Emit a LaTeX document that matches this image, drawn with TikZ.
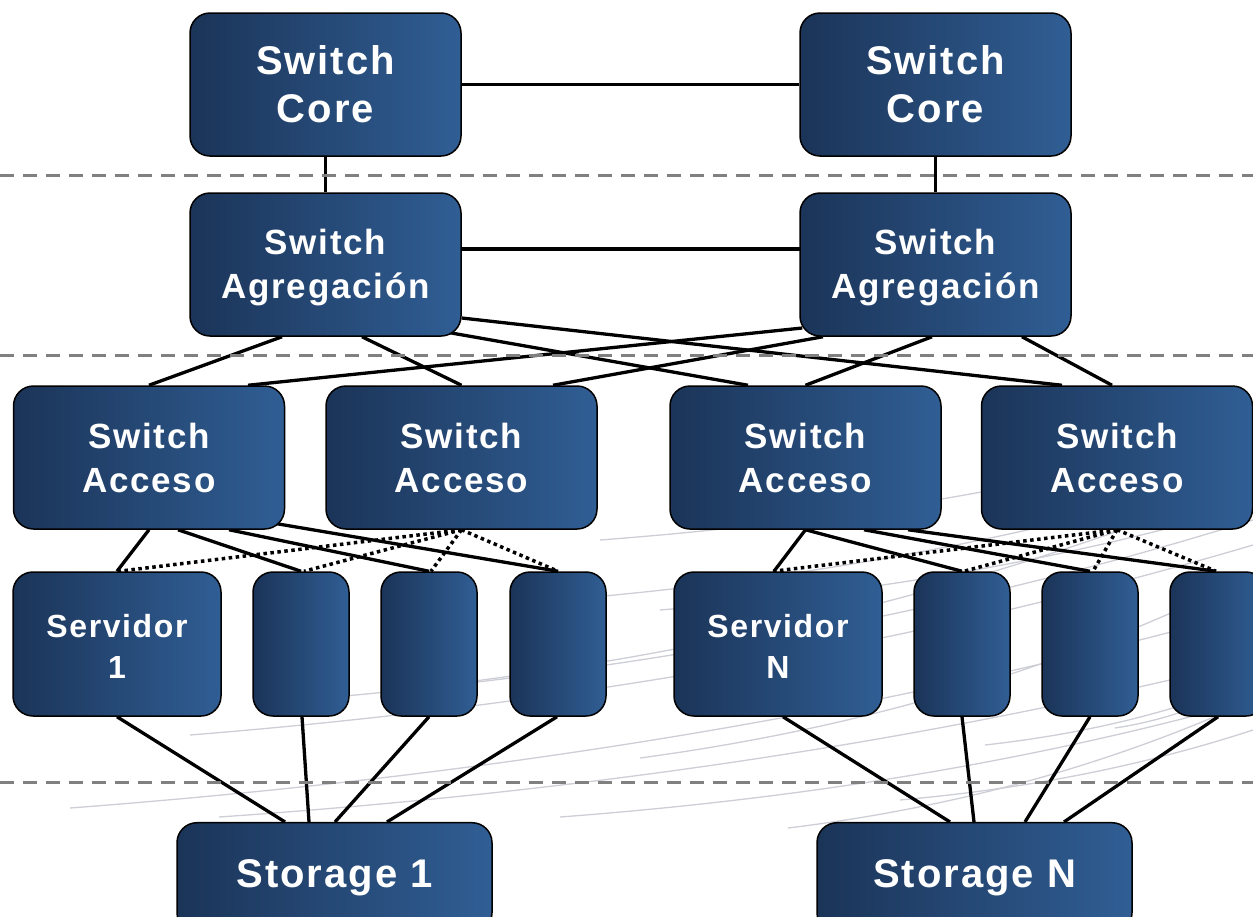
\documentclass[tikz,border=0pt]{standalone}
\usepackage{fontspec}
\newfontfamily\labfont[LetterSpace=5]{Liberation Sans}
\usetikzlibrary{calc}
\definecolor{navyL}{RGB}{27,52,88}
\definecolor{navyR}{RGB}{48,94,148}
\definecolor{sepgray}{RGB}{128,128,128}
\definecolor{swooshgray}{RGB}{205,206,214}
\pgfdeclarelayer{bg}
\pgfsetlayers{bg,main}
\tikzset{
  box/.style={draw=black, line width=1.5pt, rounded corners=20pt, left color=navyL, right color=navyR, text=white, align=center, inner sep=0pt},
  bigbox/.style={box, minimum width=271pt, minimum height=143pt},
  srvbox/.style={box, minimum width=208pt, minimum height=144pt},
  slimbox/.style={box, minimum width=96pt, minimum height=144pt},
  stobox/.style={box, minimum width=315pt, minimum height=110pt},
  fcore/.style={font=\labfont\bfseries\fontsize{40}{48}\selectfont},
  fmid/.style={font=\labfont\bfseries\fontsize{35}{44}\selectfont},
  fsrv/.style={font=\labfont\bfseries\fontsize{32}{41}\selectfont},
  link/.style={line width=3.3pt, black},
  dotlink/.style={line width=3.5pt, black, dash pattern=on 3.5pt off 3.5pt},
  sepline/.style={line width=3pt, sepgray, dash pattern=on 14pt off 9pt},
  swoosh/.style={line width=1.3pt, swooshgray},
}
\begin{document}
\begin{tikzpicture}[x=1pt,y=1pt]
\useasboundingbox (0,0) rectangle (1253,-916);
\clip (0,0) rectangle (1253,-916);

% nodes
\node[bigbox,fcore] (coreL) at (325.5,-84.5) {Switch\\Core};
\node[bigbox,fcore] (coreR) at (935.5,-84.5) {Switch\\Core};
\node[bigbox,fmid] (aggL) at (325.5,-264.5) {\rule{0pt}{32pt}Switch\\Agregación};
\node[bigbox,fmid] (aggR) at (935.5,-264.5) {\rule{0pt}{32pt}Switch\\Agregación};
\node[bigbox,fmid] (acc1) at (149,-457.5) {\rule{0pt}{27pt}Switch\\Acceso};
\node[bigbox,fmid] (acc2) at (461.5,-457.5) {\rule{0pt}{27pt}Switch\\Acceso};
\node[bigbox,fmid] (acc3) at (805.5,-457.5) {\rule{0pt}{27pt}Switch\\Acceso};
\node[bigbox,fmid] (acc4) at (1117,-457.5) {\rule{0pt}{27pt}Switch\\Acceso};
\node[srvbox,fsrv] (srv1) at (117,-644) {\rule{0pt}{27pt}Servidor\\1};
\node[slimbox] (s12) at (301,-644) {};
\node[slimbox] (s13) at (429,-644) {};
\node[slimbox] (s14) at (558,-644) {};
\node[srvbox,fsrv] (srvN) at (778,-644) {\rule{0pt}{27pt}Servidor\\N};
\node[slimbox] (sN2) at (962,-644) {};
\node[slimbox] (sN3) at (1090,-644) {};
\node[slimbox] (sN4) at (1218,-644) {};
\node[stobox,fcore] (sto1) at (334.5,-877.7) {Storage 1};
\node[stobox,fcore] (stoN) at (974.5,-877.7) {Storage N};

% separators
\coordinate (sepAl) at (0,-175);   \coordinate (sepAr) at (1253,-175);
\coordinate (sepBl) at (0,-355);   \coordinate (sepBr) at (1253,-355);
\coordinate (sepCl) at (0,-782);   \coordinate (sepCr) at (1253,-782);

\begin{pgfonlayer}{bg}
% faint background swooshes
\draw[swoosh] (190,-735) .. controls (544,-706.5) and (899,-649.5) .. (1253,-545);
\draw[swoosh] (70,-808) .. controls (464,-778) and (859,-719) .. (1253,-610);
\draw[swoosh] (219,-817) .. controls (564,-793) and (908,-746) .. (1253,-660);
\draw[swoosh] (300,-700) .. controls (618,-673) and (935,-619) .. (1253,-520);
\draw[swoosh] (400,-690) .. controls (684,-658.5) and (969,-595.5) .. (1253,-480);
\draw[swoosh] (560,-600) .. controls (791,-580.5) and (1022,-541.5) .. (1253,-470);
\draw[swoosh] (600,-540) .. controls (818,-523.5) and (1035,-490.5) .. (1253,-430);
\draw[swoosh] (660,-610) .. controls (858,-594) and (1055,-563) .. (1253,-505);
\draw[swoosh] (640,-758) .. controls (844,-730.5) and (1049,-675.6) .. (1253,-575);
\draw[swoosh] (788,-828) .. controls (943,-809) and (1098,-770) .. (1253,-700);
\draw[swoosh] (900,-800) .. controls (1018,-789.5) and (1135,-768.5) .. (1253,-730);
\draw[swoosh] (985,-745) .. controls (1074,-735) and (1164,-716) .. (1253,-680);
\draw[swoosh] (1115,-728) .. controls (1161,-721) and (1207,-706) .. (1253,-680);
\draw[swoosh] (560,-817) .. controls (791,-799.5) and (1022,-764.5) .. (1253,-700);

% core / aggregation links
\draw[link] (coreL) -- (coreR);
\draw[link] (coreL) -- (aggL);
\draw[link] (coreR) -- (aggR);
\draw[link] ($(aggL.center)+(0,15.5)$) -- ($(aggR.center)+(0,15.5)$);

% aggregation -> access
\draw[link] ($(aggL.south)+(-43.5,0)$) -- (acc1.north);
\draw[link] ($(aggL.south)+(36.5,0)$) -- (acc2.north);
\draw[link] ($(aggL.south)+(124.5,4)$) -- ($(acc3.north)+(-57.5,0)$);
\draw[link] ($(aggL.east)+(0,-53.5)$) -- ($(acc4.north)+(-55,0)$);
\draw[link] ($(aggR.west)+(3,-63.5)$) -- ($(acc1.north)+(99,0)$);
\draw[link] ($(aggR.south)+(-112.5,0)$) -- ($(acc2.north)+(91.5,0)$);
\draw[link] ($(aggR.south)+(-3.5,0)$) -- (acc3.north);
\draw[link] ($(aggR.south)+(86.5,0)$) -- ($(acc4.north)+(-5,0)$);

% access -> servers (left group)
\draw[link] (acc1.south) -- (srv1.north);
\draw[link] ($(acc1.south)+(29,0)$) -- (s12.north);
\draw[link] ($(acc1.south)+(80,0)$) -- (s13.north);
\draw[link] ($(acc1.south)+(128,6)$) -- (s14.north);
\draw[dotlink] (acc2.south) -- ($(srv1.north)+(2,0)$);
\draw[dotlink] (acc2.south) -- ($(s12.north)+(3,0)$);
\draw[dotlink] (acc2.south) -- ($(s13.north)+(2,0)$);
\draw[dotlink] (acc2.south) -- (s14.north);

% access -> servers (right group)
\draw[link] (acc3.south) -- ($(srvN.north)+(-4,0)$);
\draw[link] (acc3.south) -- (sN2.north);
\draw[link] ($(acc3.south)+(58.5,0)$) -- (sN3.north);
\draw[link] ($(acc3.south)+(102.5,0)$) -- ($(sN4.north)+(-2,0)$);
\draw[dotlink] (acc4.south) -- ($(srvN.north)+(-5,0)$);
\draw[dotlink] (acc4.south) -- ($(sN2.north)+(2,0)$);
\draw[dotlink] (acc4.south) -- ($(sN3.north)+(3,0)$);
\draw[dotlink] (acc4.south) -- ($(sN4.north)+(-2,0)$);

% servers -> storage
\draw[link] (srv1.south) -- ($(sto1.north)+(-49.5,0)$);
\draw[link] ($(s12.south)+(1,0)$) -- ($(sto1.north)+(-25.5,0)$);
\draw[link] (s13.south) -- ($(sto1.north)+(0.5,0)$);
\draw[link] ($(s14.south)+(-1,0)$) -- ($(sto1.north)+(52.5,0)$);
\draw[link] ($(srvN.south)+(5,0)$) -- ($(stoN.north)+(-24.5,0)$);
\draw[link] (sN2.south) -- ($(stoN.north)+(-0.5,0)$);
\draw[link] (sN3.south) -- ($(stoN.north)+(50.5,0)$);
\draw[link] (sN4.south) -- ($(stoN.north)+(89.5,0)$);

% dashed separators (over the links)
\draw[sepline] (sepAl) -- (sepAr);
\draw[sepline] (sepBl) -- (sepBr);
\draw[sepline] (sepCl) -- (sepCr);
\end{pgfonlayer}
\end{tikzpicture}
\end{document}
